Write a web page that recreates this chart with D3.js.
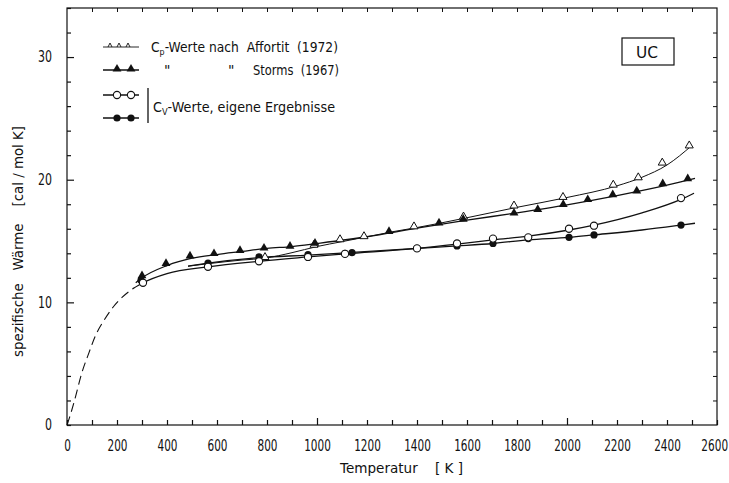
<!DOCTYPE html>
<html>
<head>
<meta charset="utf-8">
<script src="https://cdn.jsdelivr.net/npm/d3@7"></script>
<style>
  body { margin: 0; background: #fff; }
  svg text { font-family: "DejaVu Sans", sans-serif; fill: #111; }
</style>
</head>
<body>
<svg id="chart" width="729" height="483"></svg>
<script>
// tick labels
var xTicks = [0, 200, 400, 600, 800, 1000, 1200, 1400, 1600, 1800, 2000, 2200, 2400, 2600];
var yTicks = [0, 10, 20, 30];

// extrapolation (dashed) down to 0 K
var extraT = [0, 10, 30, 60, 88, 112, 150, 184, 220, 262];
var extraV = [0, 0.6, 2.0, 4.3, 5.9, 7.2, 8.6, 9.6, 10.4, 11.1];

// Cp Affortit (1972) - open triangles
var affT = [792, 988, 1092, 1188, 1388, 1586, 1788, 1984, 2185, 2285, 2381, 2489];
var affV = [13.6, 14.6, 15.05, 15.3, 16.1, 16.9, 17.8, 18.5, 19.5, 20.1, 21.3, 22.7];
var affCurveT = [484, 564, 700, 790, 900, 1000, 1100, 1200, 1300, 1400, 1600, 1800, 2000, 2200, 2300, 2400, 2500];
var affCurveV = [12.95, 13.15, 13.45, 13.6, 14.05, 14.55, 14.95, 15.35, 15.75, 16.1, 16.9, 17.75, 18.55, 19.5, 20.2, 21.2, 22.8];

// Cp Storms (1967) - filled triangles
var stoT = [300, 396, 492, 588, 692, 788, 892, 992, 1288, 1488, 1585, 1788, 1883, 1985, 2083, 2183, 2279, 2383, 2483];
var stoV = [12.1, 13.1, 13.7, 13.9, 14.15, 14.35, 14.5, 14.75, 15.7, 16.4, 16.7, 17.2, 17.5, 17.9, 18.3, 18.7, 19.0, 19.6, 20.0];
var stoCurveT = [275, 300, 400, 500, 600, 700, 800, 900, 1000, 1200, 1400, 1600, 1800, 2000, 2200, 2400, 2512];
var stoCurveV = [11.6, 12.0, 13.0, 13.6, 13.9, 14.15, 14.4, 14.55, 14.8, 15.35, 16.05, 16.7, 17.3, 17.95, 18.7, 19.55, 20.1];

// Cv eigene Ergebnisse - open circles
var openT = [304, 564, 768, 964, 1112, 1400, 1560, 1704, 1845, 2008, 2108, 2456];
var openV = [11.6, 12.9, 13.35, 13.7, 13.95, 14.4, 14.8, 15.2, 15.3, 16.0, 16.25, 18.5];
var openCurveT = [262, 304, 400, 564, 768, 964, 1112, 1400, 1560, 1704, 1845, 2008, 2108, 2300, 2456, 2508];
var openCurveV = [11.1, 11.6, 12.35, 12.9, 13.35, 13.7, 13.95, 14.4, 14.75, 15.1, 15.4, 15.9, 16.3, 17.3, 18.4, 18.9];

// Cv eigene Ergebnisse - filled circles
var fullT = [296, 564, 768, 964, 1112, 1140, 1400, 1560, 1704, 1845, 2008, 2108, 2456];
var fullV = [11.8, 13.2, 13.7, 13.9, 14.0, 14.05, 14.4, 14.6, 14.8, 15.2, 15.3, 15.5, 16.3];
var fullCurveT = [484, 564, 768, 964, 1126, 1400, 1560, 1704, 1845, 2008, 2108, 2300, 2456, 2512];
var fullCurveV = [12.95, 13.2, 13.65, 13.85, 14.05, 14.4, 14.6, 14.8, 15.1, 15.3, 15.5, 15.9, 16.3, 16.45];

var svg = d3.select("#chart"),
    margin = {top: 8, right: 12, bottom: 58, left: 67},
    width = +svg.attr("width") - margin.left - margin.right,
    height = +svg.attr("height") - margin.top - margin.bottom;

var x = d3.scaleLinear().domain([0, 2600]).range([margin.left, margin.left + width]);
var y = d3.scaleLinear().domain([0, 34]).range([margin.top + height, margin.top]);

function pts(ts, vs) { return ts.map(function(t, i) { return [t, vs[i]]; }); }

// the lettering in the original is narrow, squeeze digits to ~7px each
function squeeze(sel, perChar) {
  sel.each(function() {
    var s = d3.select(this), n = s.text().length;
    if (n) s.attr("textLength", n * perChar).attr("lengthAdjust", "spacingAndGlyphs");
  });
}

var line = d3.line()
    .x(function(d) { return x(d[0]); })
    .y(function(d) { return y(d[1]); })
    .curve(d3.curveMonotoneX);

//frame
svg.append("rect")
    .attr("x", x(0)).attr("y", y(34))
    .attr("width", width).attr("height", height)
    .attr("fill", "none").attr("stroke", "#111").attr("stroke-width", 1.2);

//x axis bottom, ticks pointing inside
var xAxis = svg.append("g")
    .attr("transform", "translate(0," + y(0) + ")")
    .call(d3.axisBottom(x)
      .tickValues(d3.range(0, 2601, 100))
      .tickSize(-5)
      .tickPadding(15)
      .tickFormat(function(d) { return xTicks.indexOf(d) >= 0 ? d : ""; }));
xAxis.select(".domain").remove();
// narrow digits: squeeze horizontally around the tick
xAxis.selectAll("text").attr("font-size", 15).attr("fill", "#111")
    .attr("transform", "scale(0.7,1)");
// last label sits at the page edge
xAxis.selectAll("text").filter(function(d) { return d === 2600; }).attr("x", -4);
xAxis.selectAll("line").attr("stroke", "#111").attr("stroke-width", 1.2)
    .attr("y2", function(d) { return d % 1000 === 0 && d > 0 ? -7 : -5; });

//top ticks
var xTop = svg.append("g")
    .attr("transform", "translate(0," + y(34) + ")")
    .call(d3.axisTop(x).tickValues(d3.range(100, 2600, 100)).tickSize(-4).tickFormat(""));
xTop.select(".domain").remove();
xTop.selectAll("line").attr("stroke", "#111");

//y axis left
var yAxis = svg.append("g")
    .attr("transform", "translate(" + x(0) + ",0)")
    .call(d3.axisLeft(y)
      .tickValues(d3.range(0, 35, 2))
      .tickSize(-4)
      .tickPadding(15)
      .tickFormat(function(d) { return yTicks.indexOf(d) >= 0 ? d : ""; }));
yAxis.select(".domain").remove();
yAxis.selectAll("text").attr("font-size", 15).attr("fill", "#111").call(squeeze, 7);
yAxis.selectAll("line").attr("stroke", "#111").attr("stroke-width", 1.2)
    .attr("x2", function(d) { return d % 10 === 0 && d > 0 ? 7 : 4; });

//right ticks
var yRight = svg.append("g")
    .attr("transform", "translate(" + x(2600) + ",0)")
    .call(d3.axisRight(y).tickValues(d3.range(2, 34, 2)).tickSize(-4).tickFormat(""));
yRight.select(".domain").remove();
yRight.selectAll("line").attr("stroke", "#111");

//axis titles
svg.append("text")
    .attr("x", 340).attr("y", 473)
    .attr("font-size", 14)
    .attr("xml:space", "preserve")
    .attr("textLength", 123).attr("lengthAdjust", "spacingAndGlyphs")
    .text("Temperatur    [ K ]");
svg.append("text")
    .attr("transform", "translate(23," + 357 + ") rotate(-90)")
    .attr("font-size", 14)
    .attr("xml:space", "preserve")
    .attr("textLength", 231).attr("lengthAdjust", "spacingAndGlyphs")
    .text("spezifische   Wärme    [cal / mol K]");

//curves
var plot = svg.append("g").attr("fill", "none").attr("stroke", "#111");
plot.append("path").datum(pts(extraT, extraV))
    .attr("d", line).attr("stroke-width", 1.1).attr("stroke-dasharray", "9,5");
plot.append("path").datum(pts(affCurveT, affCurveV)).attr("d", line).attr("stroke-width", 1);
plot.append("path").datum(pts(stoCurveT, stoCurveV)).attr("d", line).attr("stroke-width", 1.3);
plot.append("path").datum(pts(openCurveT, openCurveV)).attr("d", line).attr("stroke-width", 1.3);
plot.append("path").datum(pts(fullCurveT, fullCurveV)).attr("d", line).attr("stroke-width", 1.3);

var tri = d3.symbol().type(d3.symbolTriangle).size(34);

//markers
svg.append("g").selectAll("path").data(pts(affT, affV)).enter().append("path")
    .attr("d", d3.symbol().type(d3.symbolTriangle).size(28))
    .attr("transform", function(d) { return "translate(" + x(d[0]) + "," + (y(d[1]) - 1) + ")"; })
    .attr("fill", "#fff").attr("stroke", "#111").attr("stroke-width", 1);
svg.append("g").selectAll("path").data(pts(stoT, stoV)).enter().append("path")
    .attr("d", tri)
    .attr("transform", function(d) { return "translate(" + x(d[0]) + "," + (y(d[1]) - 1) + ")"; })
    .attr("fill", "#111");
svg.append("g").selectAll("circle").data(pts(fullT, fullV)).enter().append("circle")
    .attr("cx", function(d) { return x(d[0]); })
    .attr("cy", function(d) { return y(d[1]); })
    .attr("r", 3.6).attr("fill", "#111");
svg.append("g").selectAll("circle").data(pts(openT, openV)).enter().append("circle")
    .attr("cx", function(d) { return x(d[0]); })
    .attr("cy", function(d) { return y(d[1]); })
    .attr("r", 3.6).attr("fill", "#fff").attr("stroke", "#111").attr("stroke-width", 1.1);

//legend
var legend = svg.append("g").attr("font-size", 14);
var ly = [47, 70, 95, 118];
ly.forEach(function(yy) {
  legend.append("line").attr("x1", 103).attr("x2", 139).attr("y1", yy).attr("y2", yy)
    .attr("stroke", "#111").attr("stroke-width", yy === 47 ? 0.9 : 1.3);
});
[110, 119, 128].forEach(function(xx) {
  legend.append("path").attr("d", "M" + (xx - 2) + "," + 47 + "L" + xx + "," + 43 + "L" + (xx + 2) + "," + 47)
    .attr("fill", "none").attr("stroke", "#111").attr("stroke-width", 0.9);
});
[117, 131].forEach(function(xx) {
  legend.append("path").attr("d", tri).attr("transform", "translate(" + xx + "," + 69 + ")").attr("fill", "#111");
  legend.append("circle").attr("cx", xx).attr("cy", 95).attr("r", 3.6)
    .attr("fill", "#fff").attr("stroke", "#111").attr("stroke-width", 1.1);
  legend.append("circle").attr("cx", xx).attr("cy", 118).attr("r", 3.6).attr("fill", "#111");
});
var t1 = legend.append("text").attr("x", 151).attr("y", 52)
    .attr("xml:space", "preserve")
    .attr("textLength", 187).attr("lengthAdjust", "spacingAndGlyphs");
t1.append("tspan").text("C");
t1.append("tspan").attr("font-size", 9).attr("dy", 3).text("p");
t1.append("tspan").attr("dy", -3).text("-Werte nach  Affortit  (1972)");
legend.append("text").attr("x", 164).attr("y", 75).text("\"");
legend.append("text").attr("x", 228).attr("y", 75).text("\"");
legend.append("text").attr("x", 253).attr("y", 75).attr("xml:space", "preserve")
    .attr("textLength", 86).attr("lengthAdjust", "spacingAndGlyphs").text("Storms  (1967)");
legend.append("line").attr("x1", 148).attr("x2", 148).attr("y1", 88).attr("y2", 123)
    .attr("stroke", "#111").attr("stroke-width", 1.3);
var t3 = legend.append("text").attr("x", 153).attr("y", 112)
    .attr("textLength", 182).attr("lengthAdjust", "spacingAndGlyphs");
t3.append("tspan").text("C");
t3.append("tspan").attr("font-size", 9).attr("dy", 3).text("V");
t3.append("tspan").attr("dy", -3).text("-Werte, eigene Ergebnisse");

//UC box
svg.append("rect").attr("x", 622).attr("y", 38).attr("width", 52).attr("height", 27)
    .attr("fill", "none").attr("stroke", "#111").attr("stroke-width", 1.2);
svg.append("text").attr("x", 636).attr("y", 58)
    .attr("font-size", 15).attr("textLength", 22).attr("lengthAdjust", "spacingAndGlyphs").text("UC");
</script>
</body>
</html>
